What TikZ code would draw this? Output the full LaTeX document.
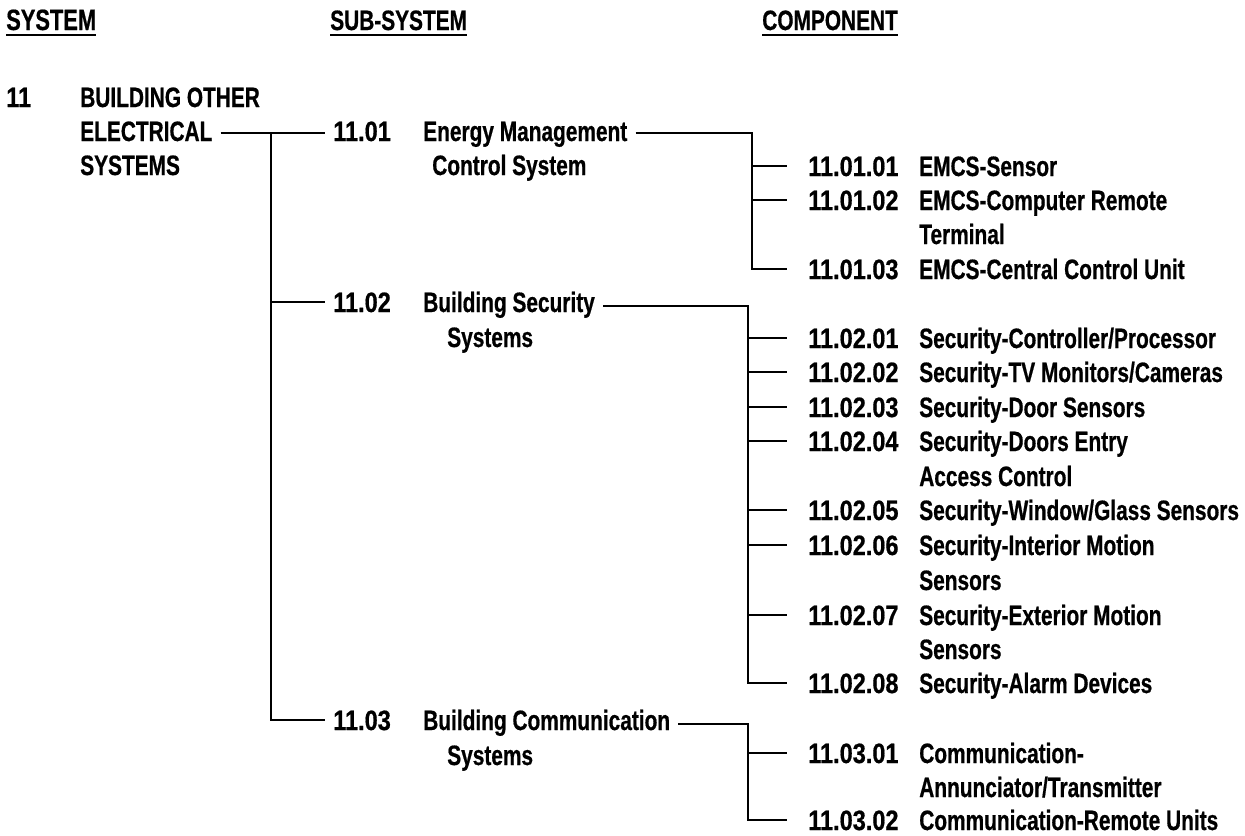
\documentclass[tikz,border=0pt]{standalone}
\usepackage{fontspec}
\setmainfont{Liberation Sans}[FakeStretch=0.745, FakeBold=0.6]
\newfontfamily\numfont{Liberation Sans}[FakeStretch=0.84, FakeBold=0.6]
\begin{document}
\tikzset{
  every node/.style={font=\bfseries\fontsize{21}{25}\selectfont, text height=15pt, text depth=0pt, inner ysep=0pt, anchor=west},
  lbl/.style={inner xsep=6pt},
  num/.style={inner xsep=15.75pt, font=\numfont\bfseries\fontsize{21}{25}\selectfont},
  snum/.style={inner xsep=6pt, font=\numfont\bfseries\fontsize{21}{25}\selectfont},
  plain/.style={inner xsep=0pt},
  hd/.style={inner xsep=0pt, anchor=base west},
  wire/.style={line width=2.1pt},
  uline/.style={line width=1.9pt}
}
\begin{tikzpicture}[x=0.75pt,y=-0.75pt]
\useasboundingbox (0,0) rectangle (1245,835);
% headers
\node[hd, font=\bfseries\fontsize{22}{26}\selectfont] (h1) at (6,30) {SYSTEM};
\node[hd] (h2) at (330,30) {SUB-SYSTEM};
\node[hd] (h3) at (762,30) {COMPONENT};
\foreach \h in {h1,h2,h3} \draw[uline] ([yshift=-3.6pt]\h.base west) -- ([yshift=-3.6pt]\h.base east);
% system
\node[plain, font=\numfont\bfseries\fontsize{21}{25}\selectfont] (sysn) at (6,97) {11};
\node[plain] (sys1) at (80,97) {BUILDING OTHER};
\node[lbl] (elec) at (72,131) {ELECTRICAL};
\node[plain] (sys3) at (80,165) {SYSTEMS};
% sub-systems
\node[snum] (s1n) at (325,131) {11.01};
\node[lbl] (s1t) at (415,131) {Energy Management};
\node[plain] (s1u) at (432,165) {Control System};
\node[snum] (s2n) at (325,302) {11.02};
\node[lbl] (s2t) at (415,302) {Building Security};
\node[plain] (s2u) at (447,337) {Systems};
\node[snum] (s3n) at (325,720) {11.03};
\node[lbl] (s3t) at (415,720) {Building Communication};
\node[plain] (s3u) at (447,755) {Systems};
% components
\node[num] (c0101) at (787,166) {11.01.01};
\node[plain] at (919,166) {EMCS-Sensor};
\node[num] (c0102) at (787,200) {11.01.02};
\node[plain] at (919,200) {EMCS-Computer Remote};
\node[plain] at (919,234) {Terminal};
\node[num] (c0103) at (787,269) {11.01.03};
\node[plain] at (919,269) {EMCS-Central Control Unit};
\node[num] (c0201) at (787,338) {11.02.01};
\node[plain] at (919,338) {Security-Controller/Processor};
\node[num] (c0202) at (787,372) {11.02.02};
\node[plain] at (919,372) {Security-TV Monitors/Cameras};
\node[num] (c0203) at (787,407) {11.02.03};
\node[plain] at (919,407) {Security-Door Sensors};
\node[num] (c0204) at (787,441) {11.02.04};
\node[plain] at (919,441) {Security-Doors Entry};
\node[plain] at (919,476) {Access Control};
\node[num] (c0205) at (787,510) {11.02.05};
\node[plain] at (919,510) {Security-Window/Glass Sensors};
\node[num] (c0206) at (787,545) {11.02.06};
\node[plain] at (919,545) {Security-Interior Motion};
\node[plain] at (919,580) {Sensors};
\node[num] (c0207) at (787,615) {11.02.07};
\node[plain] at (919,615) {Security-Exterior Motion};
\node[plain] at (919,649) {Sensors};
\node[num] (c0208) at (787,683) {11.02.08};
\node[plain] at (919,683) {Security-Alarm Devices};
\node[num] (c0301) at (787,753) {11.03.01};
\node[plain] at (919,753) {Communication-};
\node[plain] at (919,787) {Annunciator/Transmitter};
\node[num] (c0302) at (787,820) {11.03.02};
\node[plain] at (919,820) {Communication-Remote Units};
% connectors
\coordinate (j1) at (271,133);
\draw[wire] ([yshift=-1.5pt]elec.east) -- ([yshift=-1.5pt]s1n.west);
\draw[wire] (j1) |- (s2n.west);
\draw[wire] (j1) |- (s3n.west);
\coordinate (b1) at (752,133);
\draw[wire] ([yshift=-1.5pt]s1t.east) -- (b1) |- (c0103.west);
\foreach \c in {c0101,c0102} \draw[wire] (b1) |- (\c.west);
\coordinate (b2) at (748,306);
\draw[wire] ([yshift=-3pt]s2t.east) -- (b2) |- (c0208.west);
\foreach \c in {c0201,c0202,c0203,c0204,c0205,c0206,c0207} \draw[wire] (b2) |- (\c.west);
\coordinate (b3) at (748,724);
\draw[wire] ([yshift=-3pt]s3t.east) -- (b3) |- (c0302.west);
\draw[wire] (b3) |- (c0301.west);
\end{tikzpicture}
\end{document}
